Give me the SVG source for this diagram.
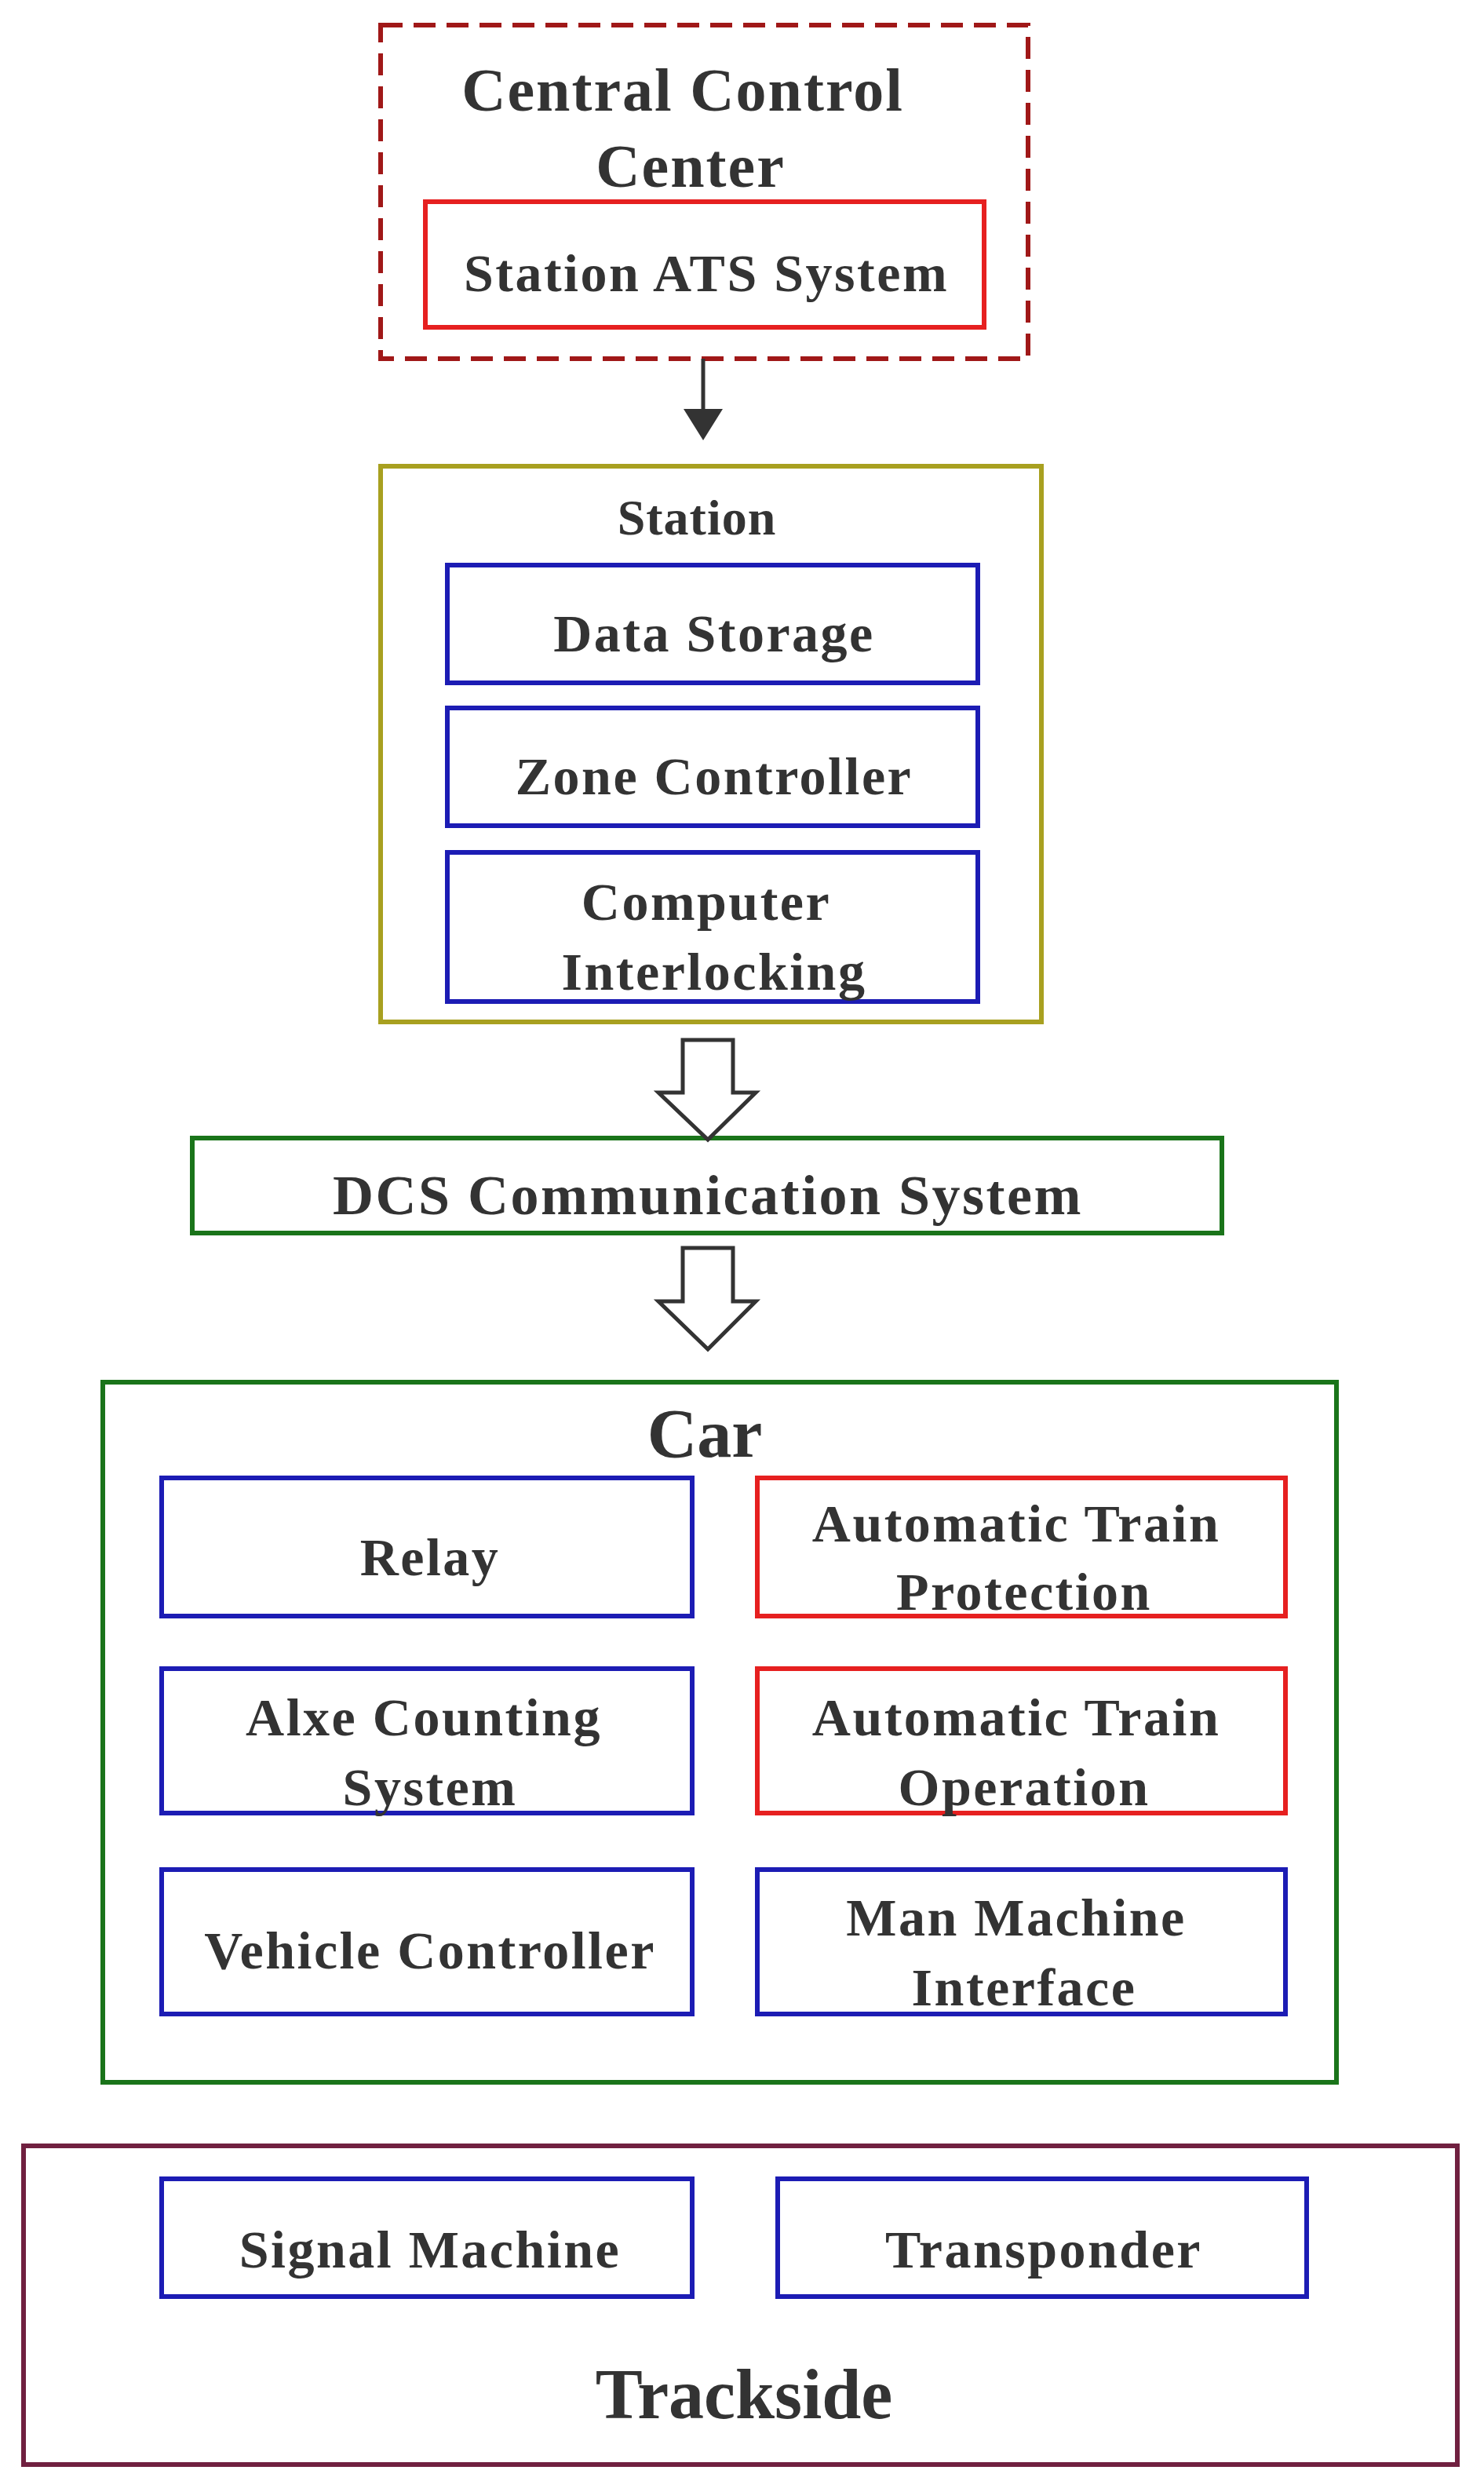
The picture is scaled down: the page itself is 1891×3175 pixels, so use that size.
<svg xmlns="http://www.w3.org/2000/svg" width="1891" height="3175" viewBox="0 0 1891 3175">
<style>
text{font-family:"Liberation Serif","Times New Roman",serif;font-weight:bold;fill:#333;text-anchor:middle;dominant-baseline:central}
.t{font-size:68px;letter-spacing:2.5px}
.box{fill:none;stroke-width:6}
.blue{stroke:#1c1cb4}
.red{stroke:#e62020}
.grn{stroke:#1a741a}
.hol{fill:#fff;stroke:#333;stroke-width:5;stroke-linejoin:miter}
</style>
<defs><marker id="ah" markerWidth="8" markerHeight="10" refX="7" refY="5" orient="auto" markerUnits="strokeWidth"><path d="M0,0 L8,5 L0,10 z" fill="#333"/></marker></defs>
<rect width="1891" height="3175" fill="#fff"/>
<g id="ccc"><rect class="box" x="485" y="32" width="825" height="425" stroke="#a01818" stroke-dasharray="28,14"/>
<text x="870" y="114" style="font-size:78px;letter-spacing:2px">Central Control</text><text x="880" y="211" style="font-size:78px;letter-spacing:2px">Center</text></g>
<g id="ats"><rect class="box red" x="542" y="257" width="712" height="160"/><text class="t" x="900" y="348">Station ATS System</text></g>
<g id="station"><rect class="box" x="485" y="594" width="842" height="708" stroke="#a8a020"/><text x="888" y="659" style="font-size:64px;letter-spacing:1px">Station</text></g>
<g id="ds"><rect class="box blue" x="570" y="720" width="676" height="150" stroke="#1c1c9a"/><text class="t" x="910" y="807">Data Storage</text></g>
<g id="zc"><rect class="box blue" x="570" y="902" width="676" height="150"/><text class="t" x="910" y="989">Zone Controller</text></g>
<g id="ci"><rect class="box blue" x="570" y="1086" width="676" height="190"/><text class="t" x="900" y="1149">Computer</text><text class="t" x="910" y="1238">Interlocking</text></g>
<g id="dcs"><rect class="box grn" x="245" y="1450" width="1312" height="121"/><text class="t" x="902" y="1523" style="font-size:72px">DCS Communication System</text></g>
<g id="car"><rect class="box grn" x="131" y="1761" width="1572" height="892"/><text x="898" y="1826" style="font-size:88px">Car</text></g>
<g id="relay"><rect class="box blue" x="206" y="1883" width="676" height="176"/><text class="t" x="548" y="1984">Relay</text></g>
<g id="atp"><rect class="box red" x="965" y="1883" width="673" height="176"/><text class="t" x="1295" y="1941">Automatic Train</text><text class="t" x="1305" y="2028">Protection</text></g>
<g id="acs"><rect class="box blue" x="206" y="2126" width="676" height="184"/><text class="t" x="540" y="2188">Alxe Counting</text><text class="t" x="548" y="2277">System</text></g>
<g id="ato"><rect class="box red" x="965" y="2126" width="673" height="184"/><text class="t" x="1295" y="2188">Automatic Train</text><text class="t" x="1305" y="2277">Operation</text></g>
<g id="vc"><rect class="box blue" x="206" y="2382" width="676" height="184"/><text class="t" x="548" y="2485">Vehicle Controller</text></g>
<g id="mmi"><rect class="box blue" x="965" y="2382" width="673" height="184"/><text class="t" x="1295" y="2443">Man Machine</text><text class="t" x="1305" y="2532">Interface</text></g>
<g id="trackside"><rect class="box" x="30" y="2734" width="1827" height="406" stroke="#702040"/><text x="948" y="3050" style="font-size:90px">Trackside</text></g>
<g id="sm"><rect class="box blue" x="206" y="2776" width="676" height="150"/><text class="t" x="548" y="2866">Signal Machine</text></g>
<g id="tp"><rect class="box blue" x="991" y="2776" width="674" height="150" stroke="#1c1c9a"/><text class="t" x="1330" y="2866">Transponder</text></g>
<g id="connectors">
<line x1="896" y1="457" x2="896" y2="556" stroke="#333" stroke-width="5" marker-end="url(#ah)"/>
<path class="hol" d="M870,1325 H934 V1392 H963 L902,1452 L839,1392 H870 Z"/>
<path class="hol" d="M870,1590 H934 V1658 H963 L902,1719 L839,1658 H870 Z"/>
</g>
</svg>
